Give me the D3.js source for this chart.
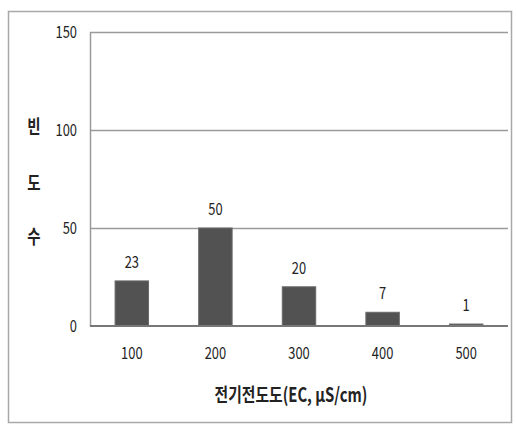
<!DOCTYPE html>
<html><head><meta charset="utf-8">
<script src="https://cdn.jsdelivr.net/npm/d3@7"></script>
<style>body{margin:0;background:#fff}svg{display:block}</style>
</head><body>
<script>
const categories = ["100","200","300","400","500"];
const counts = [23,50,20,7,1];
const yTicks = [0,50,100,150];
const yTitleChars = ["빈","도","수"];
const xTitle = "전기전도도(EC, μS/cm)";

const W=516,H=428;
const svg=d3.select("body").append("svg").attr("width",W).attr("height",H);
const font="'Noto Sans CJK KR','Noto Sans',sans-serif";
const sx=0.76;

svg.append("rect").attr("x",8.5).attr("y",11.5).attr("width",503).attr("height",411)
  .attr("fill","none").attr("stroke","#a8a8a8").attr("stroke-width",1.5);

const m={l:90,r:508,t:32,b:326};
const x=d3.scaleBand().domain(categories).range([m.l,m.r]).paddingInner(0.6).paddingOuter(0.3);
const y=d3.scaleLinear().domain([0,150]).range([m.b,m.t]);

// gridlines
svg.append("g").selectAll("line").data(yTicks.filter(d=>d>0)).join("line")
  .attr("x1",m.l).attr("x2",m.r).attr("y1",d=>y(d)+0.5).attr("y2",d=>y(d)+0.5)
  .attr("stroke","#9a9a9a").attr("stroke-width",1.5);
svg.append("line").attr("x1",m.l+0.5).attr("x2",m.l+0.5).attr("y1",m.t).attr("y2",m.b)
  .attr("stroke","#9a9a9a").attr("stroke-width",1.5);

function stext(g,xx,yy,txt,anchor,size,weight){
  return g.append("text").attr("transform",`translate(${xx},${yy}) scale(${sx},1)`)
    .attr("text-anchor",anchor).attr("font-family",font).attr("font-size",size)
    .attr("font-weight",weight||"normal").attr("fill","#222").text(txt);
}

// bars
svg.append("g").selectAll("rect").data(counts).join("rect")
  .attr("x",(d,i)=>x(categories[i])).attr("width",x.bandwidth())
  .attr("y",d=>y(d)).attr("height",d=>y(0)-y(d))
  .attr("fill","#525252").attr("stroke","#6a6a6a").attr("stroke-width",1);

// x axis line
svg.append("line").attr("x1",m.l).attr("x2",m.r).attr("y1",y(0)).attr("y2",y(0))
  .attr("stroke","#777").attr("stroke-width",2);

const g=svg.append("g");
yTicks.forEach(t=>stext(g,77,y(t)+6,String(t),"end",17));
categories.forEach(c=>stext(g,x(c)+x.bandwidth()/2,359,c,"middle",17));
counts.forEach((v,i)=>stext(g,x(categories[i])+x.bandwidth()/2,y(v)-13,String(v),"middle",17));
const yc=[127,183,237];
yTitleChars.forEach((ch,i)=>stext(g,34,yc[i]+7,ch,"middle",19,"bold"));
stext(g,291,402,xTitle,"middle",19.5,"bold");
</script>
</body></html>
